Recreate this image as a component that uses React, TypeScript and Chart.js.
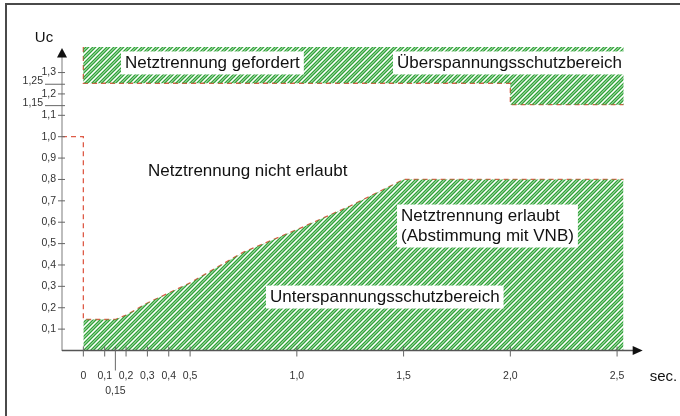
import { useEffect, useRef } from "react";
import { Chart, registerables } from "chart.js";

Chart.register(...registerables);

// ---- data (seconds / Uc) ----
const underT = [0, 0.15, 0.2, 0.3, 0.5, 0.75, 1.0, 1.25, 1.5, 2.53];
const underU = [0.145, 0.145, 0.165, 0.222, 0.316, 0.46, 0.565, 0.676, 0.8, 0.8];
const limitT = [-0.1, 0, 0];
const limitU = [1.0, 1.0, 0.145];
const overT = [0, 0, 2.53, 2.53, 2.0, 2.0];
const overU = [1.25, 1.42, 1.42, 1.15, 1.15, 1.25];
const overEdgeT = [0, 0, 2.0, 2.0, 2.53];
const overEdgeU = [1.42, 1.25, 1.25, 1.15, 1.15];

// ---- ticks ----
const yTicks = [0.1, 0.2, 0.3, 0.4, 0.5, 0.6, 0.7, 0.8, 0.9, 1.0, 1.1, 1.2, 1.3];
const yTickLabels = ["0,1", "0,2", "0,3", "0,4", "0,5", "0,6", "0,7", "0,8", "0,9", "1,0", "1,1", "1,2", "1,3"];
const yExtraTicks = [1.15, 1.25];
const yExtraLabels = ["1,15", "1,25"];
const xTicks = [0, 0.1, 0.2, 0.3, 0.4, 0.5, 1.0, 1.5, 2.0, 2.5];
const xTickLabels = ["0", "0,1", "0,2", "0,3", "0,4", "0,5", "1,0", "1,5", "2,0", "2,5"];
const xExtraTicks = [0.15];
const xExtraLabels = ["0,15"];

// ---- region labels ----
const noteTexts = [
  ["Netztrennung gefordert"],
  ["Überspannungsschutzbereich"],
  ["Netztrennung nicht erlaubt"],
  ["Netztrennung erlaubt", "(Abstimmung mit VNB)"],
  ["Unterspannungsschutzbereich"],
];
const noteT = [0.195, 1.469, 0.303, 1.488, 0.874];
const noteU = [1.345, 1.345, 0.84, 0.629, 0.25];
const noteBox = [true, true, false, true, true];

const pts = (xs: number[], ys: number[]) => xs.map((x, i) => ({ x, y: ys[i] }));

const FONT = '"Liberation Sans", Arial, sans-serif';
const GREEN = "rgb(48,164,56)";
const RED = "rgb(222,92,72)";

function makeHatch(): CanvasPattern | string {
  const P = 7;
  const c = document.createElement("canvas");
  c.width = P;
  c.height = P;
  const g = c.getContext("2d");
  if (!g) return GREEN;
  g.strokeStyle = GREEN;
  g.lineWidth = 1.4;
  for (const off of [0, 2.8]) {
    for (let k = -2; k <= 3; k++) {
      const cc = off + k * P;
      g.beginPath();
      g.moveTo(-P, cc + P);
      g.lineTo(2 * P, cc - 2 * P);
      g.stroke();
    }
  }
  return g.createPattern(c, "repeat") || GREEN;
}

const overlay = {
  id: "overlay",
  afterDatasetsDraw(chart: any) {
    const ctx: CanvasRenderingContext2D = chart.ctx;
    const xs = chart.scales.x;
    const ys = chart.scales.y;
    const X = (v: number) => xs.getPixelForValue(v);
    const Y = (v: number) => ys.getPixelForValue(v);
    const area = chart.chartArea;
    const ax = area.left;
    const ay = Y(0);
    const line = (x1: number, y1: number, x2: number, y2: number) => {
      ctx.beginPath();
      ctx.moveTo(x1, y1);
      ctx.lineTo(x2, y2);
      ctx.stroke();
    };
    ctx.save();

    // region labels with white boxes
    ctx.font = `17px ${FONT}`;
    ctx.textBaseline = "middle";
    ctx.textAlign = "left";
    noteTexts.forEach((lines, i) => {
      const x = X(noteT[i]);
      const y = Y(noteU[i]);
      const lh = 20;
      if (noteBox[i]) {
        const w = Math.max(...lines.map((l) => ctx.measureText(l).width));
        ctx.fillStyle = "#fff";
        ctx.fillRect(x - 4, y - 11.5, w + 8, 23 + (lines.length - 1) * lh);
      }
      ctx.fillStyle = "#111";
      lines.forEach((l, j) => ctx.fillText(l, x, y + j * lh));
    });

    // y axis
    ctx.strokeStyle = "#9a9a9a";
    ctx.lineWidth = 1.3;
    line(ax, ay + 0.5, ax, area.top + 9);
    ctx.fillStyle = "#111";
    ctx.beginPath();
    ctx.moveTo(ax, area.top + 1);
    ctx.lineTo(ax - 5, area.top + 10.5);
    ctx.lineTo(ax + 5, area.top + 10.5);
    ctx.closePath();
    ctx.fill();

    // x axis
    ctx.strokeStyle = "#555";
    line(ax, ay, area.right - 9, ay);
    ctx.beginPath();
    ctx.moveTo(area.right, ay);
    ctx.lineTo(area.right - 10, ay - 4.5);
    ctx.lineTo(area.right - 10, ay + 4.5);
    ctx.closePath();
    ctx.fill();

    // y ticks
    ctx.font = `10.5px ${FONT}`;
    ctx.fillStyle = "#333";
    ctx.textAlign = "right";
    ctx.strokeStyle = "#666";
    ctx.lineWidth = 1;
    yTicks.forEach((v, i) => {
      const y = Y(v);
      line(ax - 4, y, ax + 3, y);
      ctx.fillText(yTickLabels[i], ax - 6, y);
    });
    yExtraTicks.forEach((v, i) => {
      const y = Y(v);
      line(ax - 17, y + 1, ax + 3, y + 1);
      ctx.fillText(yExtraLabels[i], ax - 19, y - 2);
    });

    // x ticks
    ctx.textAlign = "center";
    xTicks.forEach((v, i) => {
      const x = X(v);
      line(x, ay - 4, x, ay + 6);
      ctx.fillText(xTickLabels[i], x, ay + 25.5);
    });
    xExtraTicks.forEach((v, i) => {
      const x = X(v);
      line(x, ay - 4, x, ay + 20);
      ctx.fillText(xExtraLabels[i], x, ay + 40.5);
    });

    // axis titles
    ctx.font = `15px ${FONT}`;
    ctx.fillStyle = "#111";
    ctx.textAlign = "center";
    ctx.fillText("Uc", ax - 18, area.top - 9);
    ctx.textAlign = "left";
    ctx.fillText("sec.", area.right + 7, ay + 26.5);

    // frame
    ctx.strokeStyle = "#4a4a4a";
    ctx.lineWidth = 2;
    line(5, 4, 680, 4);
    line(6, 3, 6, 416);

    ctx.restore();
  },
};

export default function App() {
  const ref = useRef<HTMLCanvasElement>(null);
  useEffect(() => {
    document.body.style.margin = "0";
    const canvas = ref.current;
    if (!canvas) return;
    const hatch = makeHatch();
    const chart = new Chart(canvas, {
      type: "line",
      data: {
        datasets: [
          {
            data: pts(underT, underU),
            fill: "origin",
            backgroundColor: hatch as any,
            borderWidth: 0,
            borderColor: "rgba(0,0,0,0)",
            pointRadius: 0,
          },
          {
            data: pts(overT, overU),
            fill: "shape",
            backgroundColor: hatch as any,
            borderWidth: 0,
            borderColor: "rgba(0,0,0,0)",
            pointRadius: 0,
          },
          {
            data: pts([...limitT, ...underT.slice(1)], [...limitU, ...underU.slice(1)]),
            fill: false,
            borderColor: RED,
            borderWidth: 1.3,
            borderDash: [5, 4],
            pointRadius: 0,
          },
          {
            data: pts(overEdgeT, overEdgeU),
            fill: false,
            borderColor: RED,
            borderWidth: 1.3,
            borderDash: [5, 4],
            pointRadius: 0,
          },
        ],
      },
      options: {
        animation: false,
        responsive: false,
        maintainAspectRatio: false,
        layout: { padding: { left: 62, right: 37.3, top: 46.9, bottom: 65.5 } },
        plugins: { legend: { display: false }, tooltip: { enabled: false } },
        scales: {
          x: { type: "linear", min: -0.1, max: 2.62, display: false },
          y: { type: "linear", min: 0, max: 1.42, display: false },
        },
      },
      plugins: [overlay],
    });
    return () => chart.destroy();
  }, []);
  return (
    <div style={{ width: 680, height: 416, background: "#fff" }}>
      <canvas ref={ref} width={680} height={416} style={{ display: "block" }} />
    </div>
  );
}
